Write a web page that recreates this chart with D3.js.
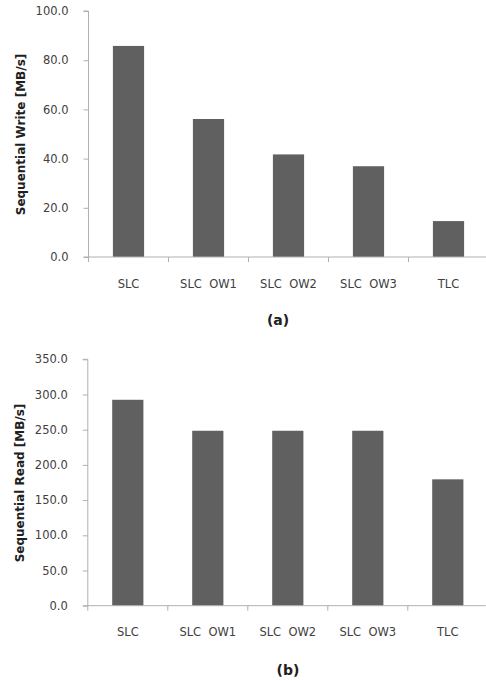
<!DOCTYPE html>
<html><head><meta charset="utf-8">
<script src="https://cdn.jsdelivr.net/npm/d3@7/dist/d3.min.js"></script>
<style>body{margin:0;background:#fff;} svg{display:block;}</style>
</head><body>
<svg id="c" width="486" height="681"></svg>
<script>
const categories = ["SLC", "SLC  OW1", "SLC  OW2", "SLC  OW3", "TLC"];
const writeValues = [85.8, 56.1, 41.7, 36.9, 14.6];
const readValues = [292.5, 248.5, 248.5, 248.5, 179.5];
const writeTicks = [0, 20, 40, 60, 80, 100];
const readTicks = [0, 50, 100, 150, 200, 250, 300, 350];

const svg = d3.select("#c");
const font = "'DejaVu Sans', 'Noto Sans', sans-serif";
const axisColor = "#b0b0b0";
const textColor = "#404040";

function panel(cfg) {
  const g = svg.append("g");
  const x = d3.scaleBand().domain(categories).range([cfg.x0, cfg.x1]).paddingInner(0.61).paddingOuter(0.305);
  const xTicks = d3.scaleBand().domain(categories).range([cfg.x0, cfg.x1]);
  const y = d3.scaleLinear().domain([0, cfg.max]).range([cfg.yBottom, cfg.yTop]);

  g.selectAll("rect.bar").data(cfg.values).enter().append("rect")
    .attr("x", (d, i) => x(categories[i]))
    .attr("width", x.bandwidth())
    .attr("y", d => y(d))
    .attr("height", d => y(0) - y(d))
    .attr("fill", "#606060");

  const ya = g.append("g").attr("transform", `translate(${cfg.x0},0)`)
    .call(d3.axisLeft(y).tickValues(cfg.ticks).tickFormat(d3.format(".1f")).tickSize(5).tickPadding(15));
  ya.select(".domain").attr("stroke", axisColor).attr("d", `M-5,${cfg.yTop}H0V${cfg.yBottom}`);
  ya.selectAll(".tick line").attr("stroke", axisColor);
  ya.selectAll(".tick text").attr("fill", textColor).style("font-family", font).style("font-size", "11.5px");

  const xa = g.append("g").attr("transform", `translate(0,${cfg.yBottom})`);
  xa.append("line").attr("x1", cfg.x0 - 5).attr("x2", cfg.x1 - 2).attr("y1", 0).attr("y2", 0).attr("stroke", axisColor);
  xa.selectAll("line.t").data(categories).enter().append("line")
    .attr("x1", d => xTicks(d)).attr("x2", d => xTicks(d)).attr("y1", 0).attr("y2", 5).attr("stroke", axisColor);
  xa.selectAll("text").data(categories).enter().append("text")
    .attr("x", d => xTicks(d) + xTicks.bandwidth() / 2)
    .attr("y", 30.5)
    .attr("text-anchor", "middle")
    .attr("fill", textColor)
    .style("font-family", font).style("font-size", "11.5px")
    .style("white-space", "pre")
    .text(d => d);

  g.append("text")
    .attr("transform", `translate(${cfg.titleX},${cfg.titleY}) rotate(-90)`)
    .attr("text-anchor", "middle")
    .attr("fill", "#202020")
    .style("font-family", font).style("font-size", "12px").style("font-weight", "bold")
    .text(cfg.title);

  g.append("text")
    .attr("x", cfg.capX).attr("y", cfg.capY)
    .attr("text-anchor", "middle")
    .attr("fill", "#202020")
    .style("font-family", font).style("font-size", "14px").style("font-weight", "bold")
    .text(cfg.caption);
}

panel({x0: 88.5, x1: 488.5, yTop: 11, yBottom: 257, max: 100, values: writeValues, ticks: writeTicks,
  title: "Sequential Write [MB/s]", titleX: 25, titleY: 134.5, caption: "(a)", capX: 278, capY: 325});
panel({x0: 87.8, x1: 487.8, yTop: 359.3, yBottom: 605.7, max: 350, values: readValues, ticks: readTicks,
  title: "Sequential Read [MB/s]", titleX: 24, titleY: 483, caption: "(b)", capX: 288, capY: 675});
</script>
</body></html>
